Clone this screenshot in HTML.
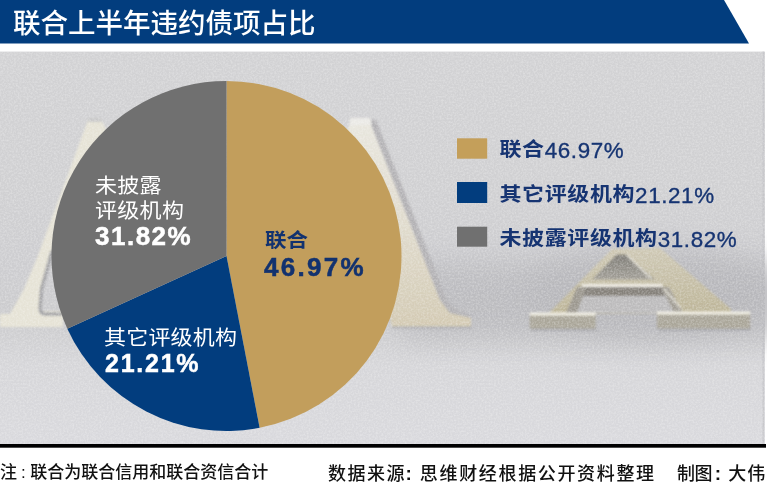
<!DOCTYPE html>
<html lang="zh-CN">
<head>
<meta charset="utf-8">
<title>联合上半年违约债项占比</title>
<style>
html,body{margin:0;padding:0;background:#fff;}
body{width:767px;height:488px;position:relative;overflow:hidden;font-family:"Liberation Sans","Noto Sans CJK SC",sans-serif;}
.abs{position:absolute;white-space:nowrap;}
#bg{position:absolute;left:0;top:0;}
.title{left:13px;top:0.5px;font-size:27.5px;line-height:40px;color:#fff;font-family:"Noto Sans CJK SC",sans-serif;font-weight:500;letter-spacing:0px;}
.lbl{color:#fff;font-family:"Liberation Sans","Noto Sans CJK SC",sans-serif;}
.cjk{font-family:"Noto Sans CJK SC",sans-serif;}
.num{font-family:"Liberation Sans",sans-serif;font-weight:bold;}
.leg{font-size:22px;color:#163472;line-height:26px;letter-spacing:0.6px;}
.leg .c{font-family:"Noto Sans CJK SC",sans-serif;font-weight:700;display:inline-block;transform:translateY(-1.2px) scaleY(0.9);transform-origin:50% 50%;}
.leg .n{font-family:"Liberation Sans",sans-serif;font-size:22.4px;-webkit-text-stroke:0.35px #163472;}
.sw{position:absolute;width:30px;height:20px;}
.foot{font-family:"Noto Sans CJK SC",sans-serif;font-size:17px;color:#111;line-height:20px;font-weight:500;}
.colr{font-family:"Liberation Sans",sans-serif;font-weight:normal;}
.colb{font-family:"Liberation Sans",sans-serif;font-weight:bold;font-size:19px;}
.sy{transform:scaleY(0.92);transform-origin:0 0;}
.wnum{-webkit-text-stroke:0.5px #fff;}
.bnum{-webkit-text-stroke:0.5px #12326f;}
</style>
</head>
<body>
<svg id="bg" width="767" height="488" viewBox="0 0 767 488">
  <defs>
    <linearGradient id="bgv" x1="0" y1="51" x2="0" y2="444" gradientUnits="userSpaceOnUse">
      <stop offset="0" stop-color="#d2d2d4"/>
      <stop offset="0.35" stop-color="#d0d0d2"/>
      <stop offset="0.55" stop-color="#cdcdd0"/>
      <stop offset="0.68" stop-color="#cbcbcd"/>
      <stop offset="0.8" stop-color="#d6d6d9"/>
      <stop offset="1" stop-color="#d9d9dd"/>
    </linearGradient>
    <linearGradient id="holeg" x1="0" y1="254" x2="0" y2="280" gradientUnits="userSpaceOnUse">
      <stop offset="0" stop-color="#7f7d77"/>
      <stop offset="1" stop-color="#a3a098"/>
    </linearGradient>
    <filter id="grain" x="0" y="0" width="100%" height="100%">
      <feTurbulence type="fractalNoise" baseFrequency="0.55" numOctaves="2" seed="7" result="n"/>
      <feColorMatrix in="n" type="matrix" values="0 0 0 0 1  0 0 0 0 1  0 0 0 0 1  0 0 0 -1.6 1.05" result="w"/>
      <feComposite in="w" in2="SourceGraphic" operator="in"/>
    </filter>
    <linearGradient id="midA" x1="0" y1="120" x2="0" y2="326" gradientUnits="userSpaceOnUse">
      <stop offset="0" stop-color="#e8e6de"/>
      <stop offset="0.5" stop-color="#e0dbcd"/>
      <stop offset="1" stop-color="#d3cab3"/>
    </linearGradient>
    <linearGradient id="rA" x1="0" y1="248" x2="0" y2="314" gradientUnits="userSpaceOnUse">
      <stop offset="0" stop-color="#cec8b4"/>
      <stop offset="1" stop-color="#bdb598"/>
    </linearGradient>
    <filter id="b15" x="-50%" y="-50%" width="200%" height="200%"><feGaussianBlur stdDeviation="14"/></filter>
    <filter id="b1" x="-10%" y="-10%" width="120%" height="120%"><feGaussianBlur stdDeviation="0.8"/></filter>
    <filter id="b3" x="-20%" y="-20%" width="140%" height="140%"><feGaussianBlur stdDeviation="4"/></filter>
  </defs>
  <!-- header -->
  <polygon points="0,0 724,0 749,43.5 0,43.5" fill="#023d7e"/>
  <!-- photo -->
  <rect x="0" y="51.6" width="765" height="392.4" fill="url(#bgv)"/>
  <rect x="762.6" y="51.6" width="1.2" height="392.4" fill="#c4c4c7"/>
  <ellipse cx="650" cy="292" rx="125" ry="48" fill="#b4b4b8" opacity="0.55" filter="url(#b15)"/>
  <rect x="400" y="262" width="400" height="78" fill="#b4b4b8" opacity="0.65" filter="url(#b15)"/>
  <!-- letters -->
  <g filter="url(#b1)">
    <!-- left A -->
    <polygon points="88,120 101,119 140,200 140,250 52,250 41,290 40,311 63,311 63,327 0,327 0,314 10,314 24,289 37,258" fill="#e6e3d6"/>
    <path d="M52,251 L41.5,289 L40,309 Q40.5,314 45,314 L62,314" fill="none" stroke="#a2a2a5" stroke-width="3.4"/>
    <polygon points="88.5,118 101,118 102,122 88,122" fill="#c8c8c8"/>
    <!-- middle A -->
    <polygon points="350.5,119.5 369,119.5 440,300 450,313 471,317 471,326.7 392,326.7 346,135" fill="url(#midA)"/>
    <polygon points="369,119.5 376,120 447,300 456,309 471,315.5 471,318 450,313 440,300" fill="#b2b1b4"/>
    <polygon points="350,118 370,118 372,124 350,126" fill="#ebeae6"/>
    <!-- foot shadows -->
    <rect x="531" y="328" width="66" height="3" fill="#9c9ca0" opacity="0.6"/>
    <rect x="658" y="328" width="93" height="3" fill="#9c9ca0" opacity="0.6"/>
    <rect x="392" y="326" width="80" height="3" fill="#a4a4a8" opacity="0.5"/>
    <!-- right A -->
    <polygon points="612,249 660,248 731,309 731,313 548,314" fill="url(#rA)"/>
    <polygon points="616.5,254.5 626,254.5 655,279.5 592,279.5" fill="url(#holeg)"/>
    <polygon points="580,286.5 664,286.5 681,313 566,313" fill="#bcbbbc"/>
    <polygon points="580,286.5 664,286.5 667,296 577,296" fill="#85817a"/>
    <polygon points="577,287 586,287 577,313 566,313" fill="#9b978e"/>
    <polygon points="661,287 669,287 683,313 674,313" fill="#a29e95"/>
    <polygon points="582.8,284 661.7,284 663,287 581,287" fill="#ece9e0"/>
    <path d="M627,255 L651,278.5" stroke="#e6e3d8" stroke-width="1.6" fill="none"/>
    <path d="M664,289 L681,308" stroke="#e6e3d8" stroke-width="1.4" fill="none"/>
    <polygon points="529.7,313.5 595.7,313.5 595.7,328.6 529.7,328.6" fill="#aaa699"/>
    <polygon points="656.9,312.5 750.2,312.5 750.2,328.2 656.9,328.2" fill="#aaa699"/>
    <polygon points="529.7,312.5 595.7,312.5 595.7,315.5 529.7,315.5" fill="#f0ede2"/>
    <polygon points="656.9,311.5 750.2,311.5 750.2,314.5 656.9,314.5" fill="#f0ede2"/>
  </g>
  <rect x="0" y="51.6" width="765" height="392.4" fill="#fff" opacity="0.35" filter="url(#grain)"/>
  <!-- black rule -->
  <rect x="0" y="444" width="766" height="3.7" fill="#000"/>
  <!-- pie -->
  <path d="M226.5,256 L226.5,81 A175,175 0 0 1 259.62,427.84 Z" fill="#c29e5c"/>
  <path d="M226.5,256 L259.62,427.84 A175,175 0 0 1 67.32,328.72 Z" fill="#023d7e"/>
  <path d="M226.5,256 L67.32,328.72 A175,175 0 0 1 226.5,81 Z" fill="#707070"/>
  <!-- legend swatches -->
  <rect x="457" y="138.3" width="30.2" height="20.4" fill="#c49f5a"/>
  <rect x="457" y="182" width="30.2" height="21" fill="#023d7e"/>
  <rect x="457" y="226.7" width="30.2" height="20" fill="#707070"/>
</svg>

<div class="abs title">联合上半年违约债项占比</div>

<!-- pie labels -->
<div class="abs lbl cjk sy" style="left:95px;top:171.8px;font-size:22px;line-height:26.8px;letter-spacing:0.3px;">未披露<br>评级机构</div>
<div class="abs lbl num wnum" style="left:95px;top:221px;font-size:26px;line-height:30px;letter-spacing:1.5px;">31.82%</div>

<div class="abs cjk sy" style="left:265px;top:226px;font-size:21.5px;line-height:28px;color:#12326f;font-weight:700;">联合</div>
<div class="abs num bnum" style="left:264px;top:252px;font-size:26px;line-height:30px;letter-spacing:2.3px;color:#12326f;">46.97%</div>

<div class="abs lbl cjk sy" style="left:104px;top:323px;font-size:22px;line-height:28px;letter-spacing:0.2px;">其它评级机构</div>
<div class="abs lbl num wnum" style="left:105px;top:348px;font-size:25px;line-height:30px;letter-spacing:1.75px;">21.21%</div>

<!-- legend text -->
<div class="abs leg" style="left:499.5px;top:135.3px;"><span class="c">联合</span><span class="n">46.97%</span></div>
<div class="abs leg" style="left:499.5px;top:179.8px;"><span class="c">其它评级机构</span><span class="n">21.21%</span></div>
<div class="abs leg" style="left:499.5px;top:224.3px;"><span class="c">未披露评级机构</span><span class="n">31.82%</span></div>

<!-- footer -->
<div class="abs foot" style="left:0px;top:461px;font-size:17px;">注<span class="colr" style="margin:0 4.5px 0 4px;">:</span>联合为联合信用和联合资信合计</div>
<div class="abs foot" style="left:328px;top:462px;font-size:18px;letter-spacing:1.5px;">数据来源<span class="colb" style="margin:0 6.5px 0 -0.5px;">:</span><span style="letter-spacing:1.66px;">思维财经根据公开资料整理</span></div>
<div class="abs foot" style="left:677px;top:462px;font-size:18px;letter-spacing:-0.6px;">制图<span class="colb" style="margin:0 7px 0 3px;letter-spacing:0;">:</span><span style="letter-spacing:1px;">大伟</span></div>
</body>
</html>
